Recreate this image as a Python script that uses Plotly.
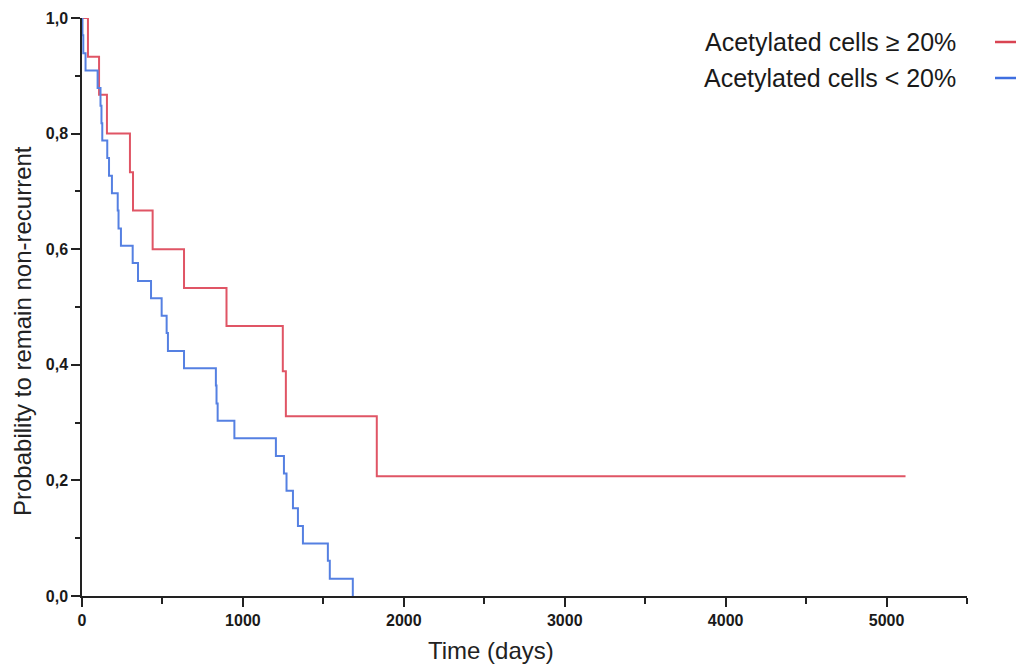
import plotly.graph_objects as go

# Kaplan-Meier step data (time in days, survival probability after each step)
high_time = [0, 37, 106, 155, 298, 317, 439, 634, 898, 1248, 1267, 1832, 5118]
high_surv = [1.0, 0.933, 0.867, 0.800, 0.733, 0.667, 0.600, 0.533, 0.467, 0.389, 0.311, 0.207, 0.207]

low_time = [0, 3, 8, 22, 97, 115, 121, 126, 157, 168, 186, 222, 227, 242, 315, 348, 429,
            495, 526, 534, 634, 832, 836, 843, 947, 1205, 1255, 1271, 1311, 1342, 1373,
            1528, 1540, 1683]
low_surv = [1.0, 0.970, 0.939, 0.909, 0.879, 0.848, 0.818, 0.788, 0.758, 0.727, 0.697,
            0.667, 0.636, 0.606, 0.576, 0.545, 0.515, 0.485, 0.455, 0.424, 0.394, 0.364,
            0.333, 0.303, 0.273, 0.242, 0.212, 0.182, 0.152, 0.121, 0.091, 0.061, 0.030, 0.0]

series_names = ["Acetylated cells \u2265 20%", "Acetylated cells < 20%"]
series_colors = ["#e05565", "#5580e2"]
legend_colors = ["#d94452", "#3f6fe0"]

x_ticks = [0, 1000, 2000, 3000, 4000, 5000]
y_ticks = [0.0, 0.2, 0.4, 0.6, 0.8, 1.0]
x_title = "Time (days)"
y_title = "Probability to remain non-recurrent"

fig = go.Figure()
for t, s, name, col in [(high_time, high_surv, series_names[0], series_colors[0]),
                        (low_time, low_surv, series_names[1], series_colors[1])]:
    fig.add_trace(go.Scatter(x=t, y=s, mode="lines", name=name,
                             line=dict(color=col, width=2, shape="hv"),
                             cliponaxis=False, showlegend=False))

axis_common = dict(showline=True, linecolor="#222222", linewidth=1.5, showgrid=False,
                   zeroline=False, ticks="outside", tickcolor="#222222", tickwidth=1.5,
                   automargin=False,
                   tickfont=dict(family="Arial, Liberation Sans", size=16, color="#1a1a1a",
                                 weight="bold"))

fig.update_xaxes(range=[0, 5500], tickvals=x_ticks, tickformat="d", ticklen=9,
                 minor=dict(dtick=500, ticks="outside", ticklen=6, tickcolor="#222222",
                            tickwidth=1.5, showgrid=False),
                 **axis_common)
fig.update_yaxes(range=[0, 1], tickvals=y_ticks, tickformat=".1f", ticklen=9,
                 minor=dict(dtick=0.1, ticks="outside", ticklen=5, tickcolor="#222222",
                            tickwidth=1.5, showgrid=False),
                 **axis_common)

L, R, T, B = 82, 54, 18, 68
W, H = 1021, 664
pw, ph = W - L - R, H - T - B


def px_x(px):
    return (px - L) / pw


def px_y(py):
    return (H - B - py) / ph


title_font = dict(family="Arial, Liberation Sans", size=24, color="#222222")
fig.add_annotation(x=px_x(491), y=px_y(650), xref="paper", yref="paper", text=x_title,
                   showarrow=False, xanchor="center", yanchor="middle", font=title_font)
fig.add_annotation(x=px_x(22), y=px_y(331), xref="paper", yref="paper", text=y_title,
                   showarrow=False, xanchor="center", yanchor="middle", textangle=-90,
                   font=title_font)

# Legend: text right-aligned with line sample on the right
rows_y = [42, 78]
for name, col, py in zip(series_names, legend_colors, rows_y):
    fig.add_annotation(x=px_x(958), y=px_y(py), xref="paper", yref="paper",
                       text=name, showarrow=False, xanchor="right", yanchor="middle",
                       font=dict(family="Arial, Liberation Sans", size=25, color="#1a1a1a"))
    fig.add_shape(type="line", xref="paper", yref="paper",
                  x0=px_x(995), x1=px_x(1016), y0=px_y(py), y1=px_y(py),
                  line=dict(color=col, width=2.5))

fig.update_layout(width=W, height=H, margin=dict(l=L, r=R, t=T, b=B),
                  plot_bgcolor="white", paper_bgcolor="white", separators=",.")

fig.write_html("out.html")
